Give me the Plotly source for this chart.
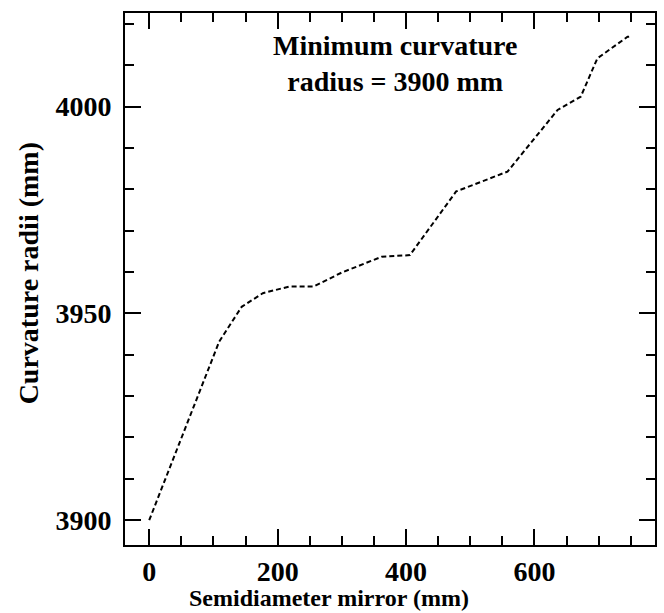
import plotly.graph_objects as go

# Data
semidiameter_mm = [0, 76, 109, 144, 177, 218, 256, 300, 362, 406, 478, 558, 636, 672, 698, 745, 752]
curvature_radii_mm = [3900, 3929.9, 3943.2, 3951.6, 3954.9, 3956.5, 3956.5, 3959.9, 3963.7,
                      3964.1, 3979.5, 3984.3, 3999.2, 4002.4, 4011.7, 4016.9, 4017.0]

x_ticks = [0, 200, 400, 600]
y_ticks = [3900, 3950, 4000]

FONT = "Liberation Serif"
FS = 28
FS_XTITLE = 24

fig = go.Figure()
fig.add_trace(go.Scatter(
    x=semidiameter_mm, y=curvature_radii_mm, mode="lines",
    line=dict(color="black", width=2, dash="5px,3px"),
    showlegend=False, hoverinfo="skip",
))

axis_common = dict(
    showline=True, linecolor="black", linewidth=2, mirror="allticks",
    ticks="inside", ticklen=16, tickwidth=2, tickcolor="black",
    showgrid=False, zeroline=False,
    tickfont=dict(family=FONT, size=FS, color="black"),
)

fig.update_xaxes(range=[-37.7, 787.7], tickvals=x_ticks,
                 ticktext=["<b>%d</b>" % v for v in x_ticks],
                 minor=dict(dtick=50, tick0=0, ticks="inside", ticklen=9, tickwidth=2, tickcolor="black"),
                 **axis_common)
fig.update_yaxes(range=[3894.0, 4022.65], tickvals=y_ticks,
                 ticktext=["<b>%d</b>" % v for v in y_ticks],
                 ticklabelstandoff=6,
                 minor=dict(dtick=10, tick0=3900, ticks="inside", ticklen=9, tickwidth=2, tickcolor="black"),
                 **axis_common)

fig.add_annotation(
    text="<b>Minimum curvature<br>radius = 3900 mm</b>",
    xref="paper", yref="paper", x=0.509, y=0.905, xanchor="center", yanchor="middle",
    showarrow=False, align="center",
    font=dict(family=FONT, size=FS, color="black"),
)
fig.add_annotation(
    text="<b>Semidiameter mirror (mm)</b>",
    xref="paper", yref="paper", x=(330 - 125) / 532, y=(545 - 613) / 532,
    xanchor="center", yanchor="bottom", showarrow=False,
    font=dict(family=FONT, size=FS_XTITLE, color="black"),
)
fig.add_annotation(
    text="<b>Curvature radii (mm)</b>",
    xref="paper", yref="paper", x=(28 - 125) / 532, y=(545 - 273) / 532,
    xanchor="center", yanchor="middle", showarrow=False, textangle=-90,
    font=dict(family=FONT, size=FS, color="black"),
)

fig.update_layout(
    width=664, height=613,
    margin=dict(l=125, r=7, t=13, b=68),
    paper_bgcolor="white", plot_bgcolor="white",
)

fig.write_html("out.html")
